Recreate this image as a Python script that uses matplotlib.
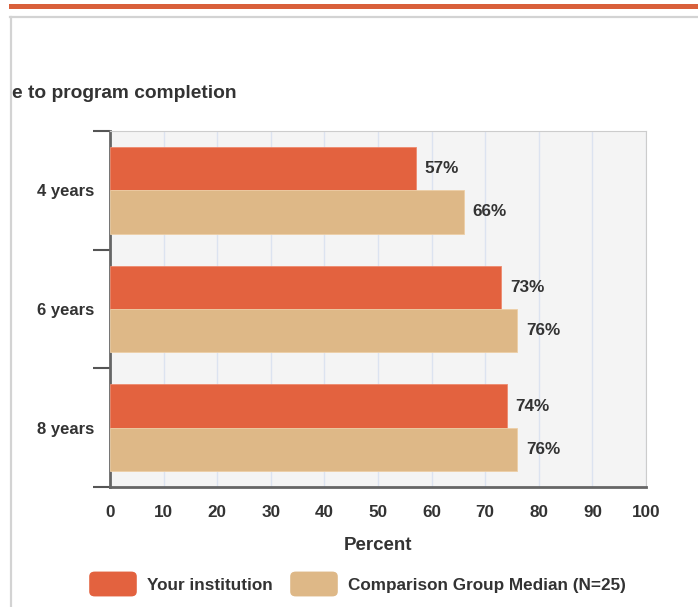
import numpy as np
import matplotlib.pyplot as plt
from matplotlib.patches import FancyBboxPatch, Rectangle
from matplotlib.lines import Line2D

plt.rcParams['font.family'] = ['Liberation Sans', 'DejaVu Sans']

# data
categories = ['4 years', '6 years', '8 years']
your_institution = [57, 73, 74]
comparison_median = [66, 76, 76]
series_names = ['Your institution', 'Comparison Group Median (N=25)']
x_ticks = [0, 10, 20, 30, 40, 50, 60, 70, 80, 90, 100]

orange = '#E3623F'
tan = '#DEB887'
text_col = '#333333'

W, H = 698, 607
fig = plt.figure(figsize=(W / 100, H / 100), dpi=100)

def fx(px):
    return px / W

def fy(py):
    return 1 - py / H

# page decoration: orange rule and grey panel border
fig.add_artist(Rectangle((fx(9), fy(9)), 1 - fx(9), 5 / H, transform=fig.transFigure,
                         color='#D9603B', lw=0))
fig.add_artist(Line2D([fx(10), 1], [fy(16.5), fy(16.5)], transform=fig.transFigure,
                      color='#D3D3D3', lw=1.6))
fig.add_artist(Line2D([fx(10.5), fx(10.5)], [fy(16.5), 0], transform=fig.transFigure,
                      color='#D3D3D3', lw=1.6))

fig.text(fx(12), fy(94), 'e to program completion', fontsize=13.8, fontweight='bold',
         color=text_col, va='center', ha='left')

ax = fig.add_axes([fx(110), fy(487), fx(646) - fx(110), (487 - 131) / H])
ax.set_facecolor('#F4F4F4')

y = np.arange(len(categories))
h = 0.365
ax.barh(y - h / 2, your_institution, height=h, color=orange, edgecolor='#EE8A6E', lw=0.6, zorder=3)
ax.barh(y + h / 2, comparison_median, height=h, color=tan, edgecolor='#EDCFA6', lw=0.6, zorder=3)

for i in range(len(categories)):
    ax.text(your_institution[i] + 1.6, y[i] - h / 2, f'{your_institution[i]}%', va='center',
            ha='left', fontsize=12.3, fontweight='bold', color=text_col, zorder=4)
    ax.text(comparison_median[i] + 1.6, y[i] + h / 2, f'{comparison_median[i]}%', va='center',
            ha='left', fontsize=12.3, fontweight='bold', color=text_col, zorder=4)

ax.set_xlim(0, 100)
ax.set_ylim(2.5, -0.5)
ax.set_xticks(x_ticks)
ax.set_xticklabels([str(t) for t in x_ticks], fontsize=12.3, fontweight='bold', color=text_col)
ax.tick_params(axis='x', length=0, pad=13)
ax.xaxis.grid(True, color='#DCE3F0', lw=1, zorder=0)

ax.set_yticks([-0.5, 0.5, 1.5, 2.5])
ax.set_yticklabels([])
ax.tick_params(axis='y', which='major', length=12, width=1.5, color='#555555')
ax.set_yticks(y, minor=True)
ax.set_yticklabels(categories, minor=True, fontsize=12, fontweight='bold', color=text_col)
ax.tick_params(axis='y', which='minor', length=0, pad=11.5)

ax.spines['left'].set_color('#666666')
ax.spines['left'].set_linewidth(2)
ax.spines['bottom'].set_color('#666666')
ax.spines['bottom'].set_linewidth(2)
ax.spines['top'].set_color('#CCCCCC')
ax.spines['right'].set_color('#CCCCCC')

ax.set_xlabel('Percent', fontsize=13.5, fontweight='bold', color=text_col, labelpad=12)

# legend drawn as rounded swatches
for x0, col, label, tx in [(89, orange, series_names[0], 147), (290, tan, series_names[1], 348)]:
    fig.add_artist(FancyBboxPatch((fx(x0 + 3), fy(597 - 3)), fx(48 - 6), (26 - 6) / H,
                                  boxstyle='round,pad=0.004,rounding_size=0.008',
                                  transform=fig.transFigure, color=col, lw=0))
    fig.text(fx(tx), fy(585.5), label, fontsize=12.3, fontweight='bold', color=text_col,
             va='center', ha='left')

fig.savefig('out.png', dpi=100)
